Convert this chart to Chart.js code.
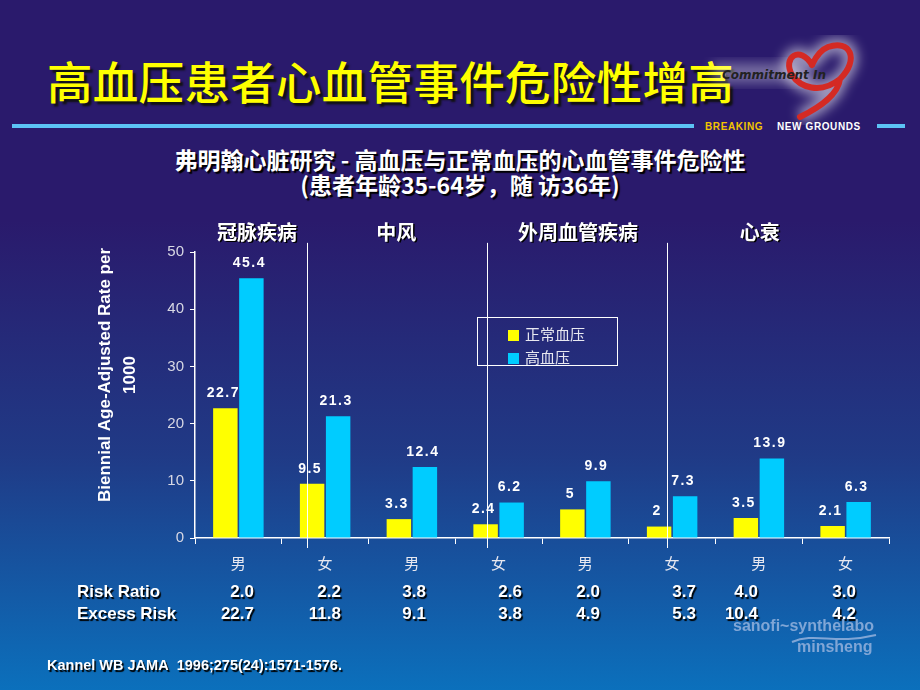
<!DOCTYPE html>
<html>
<head>
<meta charset="utf-8">
<script src="https://cdn.jsdelivr.net/npm/chart.js@4.4.1/dist/chart.umd.min.js"></script>
<style>
  html, body { margin: 0; padding: 0; }
  body {
    width: 920px; height: 690px; overflow: hidden; position: relative;
    background: linear-gradient(to bottom, #2a1a6c 0%, #2a1a6c 32%, #203a86 66%, #0b70bc 100%);
    font-family: "Liberation Sans", Arial, sans-serif;
  }
  #chart { position: absolute; left: 0; top: 0; }
  .title {
    position: absolute; left: 47px; top: 50px; font-size: 45.5px; color: #ffff00;
    font-family: "Noto Sans CJK SC", sans-serif; font-weight: 500; line-height: 60px;
    text-shadow: 3px 3px 2px #111; white-space: nowrap; letter-spacing: 0.3px;
  }
  .rule { position: absolute; top: 124px; height: 4px; background: #5cc3f5; }
  .tag { position: absolute; top: 121px; font: bold 10px "Liberation Sans", Arial; letter-spacing: 0.6px; }
  .sub {
    position: absolute; left: 0; width: 920px; text-align: center; color: #fff;
    font-family: "Noto Sans CJK SC", sans-serif; font-weight: 700; font-size: 23px;
    text-shadow: 2px 2px 1px #000; white-space: nowrap; line-height: 26px;
  }
  .legend {
    position: absolute; left: 477px; top: 317px; width: 141px; height: 49px;
    border: 1px solid #fff; box-sizing: border-box; padding: 5px 0 0 30px;
  }
  .legend div { height: 23px; line-height: 23px; color: #e8e8f0; font: 15px "Noto Sans CJK SC", sans-serif; }
  .legend span { display: inline-block; width: 11px; height: 11px; margin-right: 6px; vertical-align: -1px; }
  .risk { position: absolute; color: #fff; font: bold 17px "Liberation Sans Narrow", "Liberation Sans", Arial; text-shadow: 1.5px 1.5px 1px #000; white-space: nowrap; }
  .cite { position: absolute; left: 47px; top: 657px; color: #fff; font: bold 14.5px "Liberation Sans Narrow", "Liberation Sans", Arial; text-shadow: 1.5px 1.5px 1px #000; white-space: nowrap; }
  .sanofi { position: absolute; color: #80a6d6; font: bold 16px "Liberation Sans", Arial; white-space: nowrap; }
</style>
</head>
<body>
<div class="title">高血压患者心血管事件危险性增高</div>

<svg style="position:absolute;left:700px;top:35px" width="180" height="90">
  <defs>
    <filter id="glow" x="-30%" y="-30%" width="160%" height="160%">
      <feGaussianBlur stdDeviation="6"/>
    </filter>
  </defs>
  <path d="M112 30 C100 10,82 22,92 40 M92 40 C100 52,120 60,140 44 C160 24,150 4,128 12 C118 16,114 26,112 30 M140 44 C138 60,120 72,100 82"
        stroke="#ffffff" stroke-width="14" fill="none" opacity="0.55" filter="url(#glow)"/>
  <rect x="12" y="28" width="100" height="20" fill="#ffffff" opacity="0.35" filter="url(#glow)"/>
  <path d="M112 30 C100 10,82 22,92 40 C100 52,120 60,140 44 C160 24,150 4,128 12 C118 16,114 26,112 30 M140 44 C138 60,120 72,100 82"
        stroke="#d42a24" stroke-width="6" fill="none" stroke-linecap="round"/>
  <text x="22" y="44" font-family="DejaVu Sans" font-style="italic" font-weight="bold" font-size="12" fill="#222">Commitment In</text>
</svg>

<div class="rule" style="left:12px;width:682px"></div>
<div class="tag" style="left:705px;color:#f2c400">BREAKING</div>
<div class="tag" style="left:777px;color:#fff">NEW GROUNDS</div>
<div class="rule" style="left:877px;width:28px"></div>

<div class="sub" style="top:146px">弗明翰心脏研究 - 高血压与正常血压的心血管事件危险性</div>
<div class="sub" style="top:171px">(患者年龄35-64岁，随 访36年)</div>

<canvas id="chart" width="920" height="690"></canvas>

<div class="legend" id="legend"></div>

<div id="risk"></div>
<div class="cite">Kannel WB JAMA&nbsp; 1996;275(24):1571-1576.</div>

<div class="sanofi" style="left:733px;top:617px">sanofi~synthelabo</div>
<svg style="position:absolute;left:790px;top:633px" width="90" height="12">
  <path d="M2 9 C25 -1,45 12,86 2" stroke="#80a6d6" stroke-width="2" fill="none"/>
</svg>
<div class="sanofi" style="left:797px;top:638px">minsheng</div>

<script>
// categories and values
const categories = ['男', '女', '男', '女', '男', '女', '男', '女'];
const normalBP = [22.7, 9.5, 3.3, 2.4, 5, 2, 3.5, 2.1];
const highBP = [45.4, 21.3, 12.4, 6.2, 9.9, 7.3, 13.9, 6.3];
const seriesNames = ['正常血压', '高血压'];
const seriesColors = ['#ffff00', '#00ccff'];
const yTicks = [0, 10, 20, 30, 40, 50];

// disease groups (centre in category index units) and divider lines
const groupNames = ['冠脉疾病', '中风', '外周血管疾病', '心衰'];
const groupCentres = [0.215, 1.82, 3.915, 6.01];
const dividers = [0.79, 2.87, 4.94];

const riskRatio = ['2.0', '2.2', '3.8', '2.6', '2.0', '3.7', '4.0', '3.0'];
const excessRisk = ['22.7', '11.8', '9.1', '3.8', '4.9', '5.3', '10.4', '4.2'];
const riskX = [254, 341, 426, 522, 600, 696, 758, 856];

// legend
const legend = document.getElementById('legend');
seriesNames.forEach((n, i) => {
    const row = document.createElement('div');
    row.innerHTML = `<span style="background:${seriesColors[i]}"></span>${n}`;
    legend.appendChild(row);
});

// risk table
const risk = document.getElementById('risk');
const addRisk = (text, x, y, right) => {
    const d = document.createElement('div');
    d.className = 'risk';
    d.textContent = text;
    d.style.top = y + 'px';
    if (right) { d.style.right = (920 - x) + 'px'; } else { d.style.left = x + 'px'; }
    risk.appendChild(d);
};
addRisk('Risk Ratio', 77, 582, false);
addRisk('Excess Risk', 77, 604, false);
riskX.forEach((x, i) => {
    addRisk(riskRatio[i], x, 582, true);
    addRisk(excessRisk[i], x, 604, true);
});

const CJK = '"Noto Sans CJK SC", sans-serif';

const decorPlugin = {
    id: 'decor',
    afterDatasetsDraw(chart) {
        const ctx = chart.ctx;
        const xs = chart.scales.x;
        const ys = chart.scales.y;
        ctx.save();

        // value labels
        ctx.fillStyle = '#ffffff';
        ctx.font = 'bold 14px "Liberation Sans", Arial';
        ctx.textAlign = 'center';
        ctx.textBaseline = 'bottom';
        if (ctx.letterSpacing !== undefined) ctx.letterSpacing = '1.5px';
        chart.data.datasets.forEach((ds, di) => {
            chart.getDatasetMeta(di).data.forEach((bar, i) => {
                ctx.fillText(String(ds.data[i]), bar.x - 2, bar.y - 8);
            });
        });
        if (ctx.letterSpacing !== undefined) ctx.letterSpacing = '0px';

        // divider lines
        ctx.strokeStyle = '#ffffff';
        ctx.lineWidth = 1;
        dividers.forEach(v => {
            const x = Math.round(xs.getPixelForValue(v)) + 0.5;
            ctx.beginPath();
            ctx.moveTo(x, ys.getPixelForValue(51.6));
            ctx.lineTo(x, ys.bottom + 10);
            ctx.stroke();
        });

        // group headings
        ctx.font = 'bold 20px ' + CJK;
        ctx.textBaseline = 'middle';
        groupNames.forEach((g, i) => {
            const x = xs.getPixelForValue(groupCentres[i]);
            ctx.fillStyle = '#000000';
            ctx.fillText(g, x + 1.5, 233.5);
            ctx.fillStyle = '#ffffff';
            ctx.fillText(g, x, 232);
        });

        // y-axis title
        ctx.translate(0, 375);
        ctx.rotate(-Math.PI / 2);
        ctx.font = 'bold 17px "Liberation Sans", Arial';
        ctx.fillStyle = '#ffffff';
        ctx.fillText('Biennial Age-Adjusted Rate per', 0, 105);
        ctx.fillText('1000', 0, 130);
        ctx.restore();
    }
};

new Chart(document.getElementById('chart'), {
    type: 'bar',
    data: {
        labels: categories,
        datasets: [
            { label: seriesNames[0], data: normalBP, backgroundColor: seriesColors[0] },
            { label: seriesNames[1], data: highBP, backgroundColor: seriesColors[1] }
        ]
    },
    options: {
        responsive: false,
        animation: false,
        layout: { padding: { left: 0, top: 252, right: 31, bottom: 112 } },
        plugins: {
            legend: { display: false },
            tooltip: { enabled: false }
        },
        datasets: { bar: { barPercentage: 0.94, categoryPercentage: 0.6 } },
        scales: {
            x: {
                afterFit(scale) { scale.height = 40; },
                grid: { display: true, drawOnChartArea: false, drawTicks: true, tickLength: 6, color: '#ffffff', offset: true },
                border: { color: '#ffffff', width: 1.5 },
                ticks: { color: '#e8e8f0', font: { family: CJK, size: 15 }, padding: 10 }
            },
            y: {
                min: 0, max: 50,
                afterFit(scale) { scale.width = 195; },
                afterBuildTicks(scale) { scale.ticks = yTicks.map(v => ({ value: v })); },
                grid: { display: true, drawOnChartArea: false, drawTicks: true, tickLength: 5, color: '#ffffff' },
                border: { color: '#ffffff', width: 1.5 },
                ticks: { color: '#d8d8e4', font: { family: '"Liberation Sans", Arial', size: 15 }, padding: 6 }
            }
        }
    },
    plugins: [decorPlugin]
});
</script>
</body>
</html>
